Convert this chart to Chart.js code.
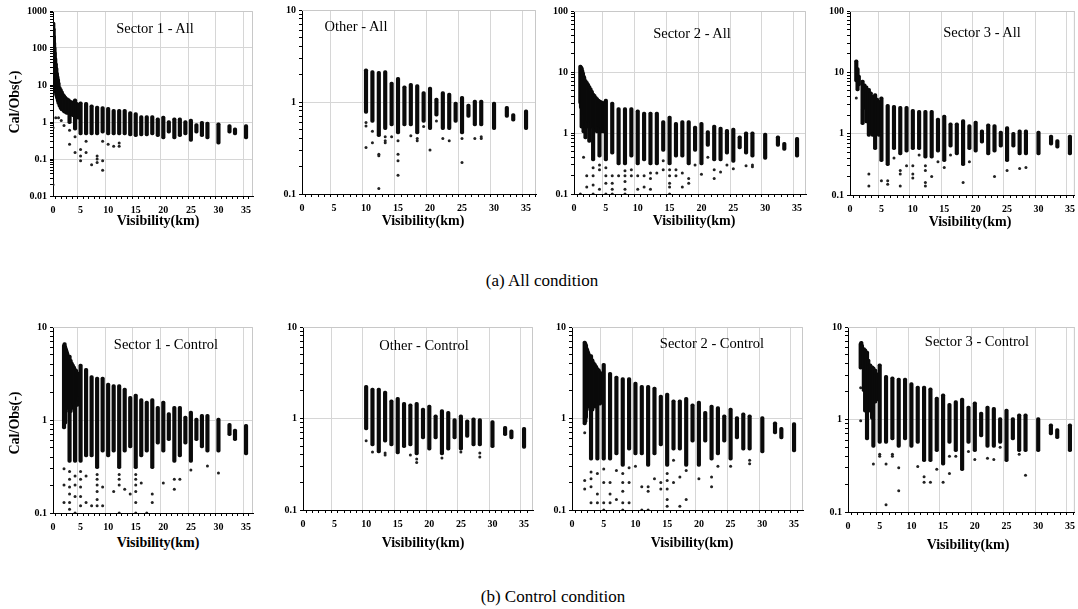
<!DOCTYPE html>
<html><head><meta charset="utf-8">
<script src="https://cdn.jsdelivr.net/npm/chart.js@4/dist/chart.umd.min.js"></script>
<style>
html,body{margin:0;padding:0;background:#fff;width:1078px;height:609px;overflow:hidden;position:relative;font-family:"Liberation Serif","Times New Roman",serif;color:#000}
canvas{position:absolute}
.t{position:absolute;transform:translate(-50%,-50%);white-space:nowrap;line-height:1}
.pt{font-size:14.5px}
.xl{font-weight:bold;font-size:14px}
.yl{font-weight:bold;font-size:14px;transform:translate(-50%,-50%) rotate(-90deg)}
.cap{font-size:17px}
</style></head><body>
<script>
// ---------- tick labels ----------
const X_TICK_LABELS = [0, 5, 10, 15, 20, 25, 30, 35];
const Y_MAJOR_S1_ALL = [0.01, 0.1, 1, 10, 100, 1000];
const Y_MAJOR_2DEC = [0.1, 1, 10];
const Y_MAJOR_3DEC = [0.1, 1, 10, 100];
const FAR_X = [6,7,8,9,10,11,12,13,14,15,16,17,18,19,20,21,22,23,24,25,26,27,28,30,32,33,35];
const OTHER_X = [10,11,12,13,14,15,16,17,18,19,20,21,22,23,24,25,26,27,28,30,32,33,35];

// ---------- Sector 1 - All ----------
const S1_ALL_NEAR_X  = [0.05,0.1,0.15,0.2,0.25,0.3,0.4,0.5,0.6,0.7,0.8,0.9,1.0,1.2,1.4,1.6,1.8,2.0,2.2,2.5,2.8,3.0,3.3,3.6,4.0,4.3,4.6,5.0];
const S1_ALL_NEAR_HI = [500,350,220,150,110,80,55,40,30,22,18,15,12,9,8,7,6,5.5,5,4.6,4.3,4,3.8,3.6,4.2,3.4,3.2,3.5];
const S1_ALL_NEAR_LO = [30,25,20,15,12,10,8,6,5,4.5,4,3.5,3,2.5,2.2,2,2,1.8,1.7,1.6,1.6,0.9,1.5,1.4,0.6,1.3,1.2,0.45];
const S1_ALL_HI = [3.4,2.9,2.7,2.6,2.5,2.2,2.2,2.2,1.9,1.8,1.5,1.5,1.5,1.3,1.45,1.1,1.3,1.3,1.1,1.2,0.9,1.05,1.0,0.95,0.85,0.7,0.85];
const S1_ALL_LO = [0.45,0.45,0.45,0.5,0.45,0.45,0.45,0.45,0.42,0.4,0.42,0.42,0.45,0.4,0.35,0.5,0.35,0.4,0.45,0.3,0.5,0.4,0.35,0.25,0.5,0.45,0.35];
const S1_ALL_OUT_X = [0,0,0.5,1,1.5,2,3,3,4,4,5,5,5,6,6,7,8,8,8,9,9,9,10,11,12,12];
const S1_ALL_OUT_Y = [0.02,0.7,1.3,1.3,1.1,0.8,0.25,0.6,0.15,0.4,0.09,0.12,0.18,0.15,0.3,0.07,0.08,0.1,0.12,0.05,0.09,0.3,0.25,0.22,0.22,0.27];

// ---------- Other - All ----------
const OT_ALL_HI = [2.3,2.2,2.15,2.2,1.65,1.85,1.5,1.6,1.55,1.3,1.45,1.1,1.3,1.25,1.0,1.15,0.95,1.05,1.05,1.0,0.9,0.75,0.82];
const OT_ALL_LO = [0.75,0.6,0.42,0.5,0.55,0.45,0.55,0.55,0.45,0.6,0.5,0.7,0.5,0.5,0.6,0.45,0.68,0.55,0.55,0.5,0.68,0.62,0.5];
const OT_ALL_OUT_X = [10,10,10,11,11,12,12,12,13,13,13,14,15,15,15,15,17,18,18,19,20,21,22,23,25,25,27,28,28];
const OT_ALL_OUT_Y = [0.6,0.55,0.32,0.48,0.36,0.27,0.26,0.115,0.42,0.38,0.36,0.42,0.38,0.27,0.23,0.16,0.43,0.4,0.38,0.54,0.3,0.62,0.4,0.38,0.4,0.22,0.4,0.42,0.4];

// ---------- Sector 2 - All ----------
const S2_ALL_NEAR_X  = [1.0,1.1,1.2,1.3,1.4,1.5,1.6,1.8,2.0,2.2,2.4,2.6,2.8,3.0,3.2,3.4,3.6,3.8,4.0,4.2,4.4,4.6,4.8,5.0];
const S2_ALL_NEAR_HI = [13,12.5,12,11,10,9,8.5,7.5,7,6.5,6,5.5,5,4.5,4.3,4,3.8,3.6,3.5,3.4,3.3,3.2,3.3,3.6];
const S2_ALL_NEAR_LO = [3,2.5,1.2,2,1.5,1,2,0.8,1.2,1.5,0.7,1.5,1.2,0.35,1.3,1.2,1,1.3,0.4,1.2,1,1,1.1,0.35];
const S2_ALL_HI = [3.2,2.6,2.6,2.6,2.4,2.2,2.2,2.2,1.6,1.9,1.5,1.6,1.6,1.3,1.5,1.1,1.35,1.25,1.15,1.2,0.9,1.05,1.05,1.0,0.9,0.7,0.85];
const S2_ALL_LO = [0.45,0.3,0.3,0.4,0.3,0.35,0.3,0.3,0.5,0.3,0.4,0.4,0.3,0.5,0.3,0.6,0.35,0.35,0.45,0.33,0.55,0.45,0.4,0.37,0.6,0.52,0.4];
const S2_ALL_OUT_X = [6,6,6,6,7,8,8,8,8,8,9,9,10,10,11,11,12,12,12,13,14,14,15,15,15,15,15,16,16,17,17,18,18,19,20,21,22,22,23,24,25,27,28,28,2,2,1.5,4,4,4,3,3,3,3,5,5,5,5,1];
const S2_ALL_OUT_Y = [0.1,0.12,0.15,0.2,0.2,0.1,0.12,0.16,0.2,0.24,0.2,0.25,0.12,0.2,0.2,0.13,0.12,0.18,0.22,0.22,0.25,0.35,0.1,0.13,0.15,0.2,0.25,0.2,0.25,0.13,0.22,0.15,0.18,0.3,0.21,0.4,0.18,0.25,0.23,0.3,0.26,0.29,0.28,0.3,0.2,0.13,0.4,0.25,0.12,0.3,0.1,0.14,0.2,0.27,0.1,0.15,0.2,0.27,0.1];

// ---------- Sector 3 - All ----------
const S3_ALL_NEAR_X  = [1.0,1.2,1.4,2.0,2.3,2.6,3.0,3.3,3.6,4.0,4.3,4.6,5.0];
const S3_ALL_NEAR_HI = [16,12,9,7.5,6.5,6,5.5,4.8,4.2,4.5,3.8,3.5,4];
const S3_ALL_NEAR_LO = [7,5,6,1.4,2.5,1.5,0.9,1,0.9,0.55,1,0.9,0.35];
const S3_ALL_HI = [3.0,2.9,2.8,2.8,2.5,2.4,2.4,2.4,1.8,2.0,1.5,1.5,1.7,1.4,1.6,1.15,1.45,1.4,1.1,1.3,1.05,1.15,1.15,1.1,0.95,0.8,0.95];
const S3_ALL_LO = [0.3,0.55,0.45,0.5,0.55,0.55,0.4,0.4,0.5,0.35,0.6,0.45,0.3,0.55,0.5,0.7,0.45,0.5,0.6,0.35,0.6,0.45,0.45,0.45,0.65,0.58,0.45];
const S3_ALL_OUT_X = [1,2,3,3,5,6,6,8,8,8,9,10,10,10,12,12,12,12,13,14,15,18,23,25,27,28,7,11,16,19];
const S3_ALL_OUT_Y = [3.8,2.5,0.22,0.14,0.17,0.17,0.15,0.25,0.22,0.14,0.3,0.3,0.22,0.19,0.3,0.25,0.16,0.14,0.2,0.35,0.28,0.16,0.2,0.25,0.27,0.28,0.4,0.45,0.45,0.35];

// ---------- Sector 1 - Control ----------
const S1_CT_NEAR_X  = [2.0,2.1,2.2,2.3,2.4,2.5,2.6,2.8,3.0,3.2,3.4,3.6,3.8,4.0,4.2,4.4,4.6,4.8,5.0];
const S1_CT_NEAR_HI = [6.5,6.8,6.3,6,5.8,5.5,5.3,5,5,4.5,4.2,4,3.8,3.6,3.5,3.3,3.2,3.1,4];
const S1_CT_NEAR_LO = [0.8,1,0.9,1.2,1.3,1.5,1.4,1.3,0.35,1.2,1.3,1.5,1.4,0.35,1.5,1.4,1.6,1.8,0.35];
const S1_CT_HI = [3.6,3.0,2.9,2.9,2.5,2.4,2.4,2.2,1.8,1.9,1.7,1.6,1.7,1.4,1.6,1.2,1.4,1.4,1.1,1.25,1.05,1.15,1.15,1.05,0.92,0.8,0.9];
const S1_CT_LO = [0.4,0.4,0.3,0.45,0.4,0.45,0.3,0.45,0.5,0.3,0.4,0.45,0.3,0.55,0.45,0.6,0.35,0.4,0.55,0.35,0.6,0.5,0.45,0.45,0.68,0.6,0.42];
const S1_CT_OUT_X = [2,2,2,3,3,3,3,3,3,4,4,4,4,5,5,5,5,5,6,6,7,8,8,8,8,8,8,9,9,11,12,12,12,12,13,14,15,15,15,15,15,15,16,17,18,18,20,22,22,23,25,28,30];
const S1_CT_OUT_Y = [0.13,0.2,0.3,0.13,0.11,0.16,0.19,0.23,0.28,0.1,0.15,0.2,0.25,0.12,0.15,0.19,0.23,0.28,0.13,0.25,0.12,0.12,0.14,0.17,0.2,0.23,0.26,0.12,0.19,0.17,0.1,0.2,0.23,0.26,0.18,0.16,0.1,0.13,0.17,0.2,0.23,0.26,0.21,0.1,0.13,0.16,0.21,0.18,0.23,0.23,0.29,0.32,0.27];

// ---------- Other - Control ----------
const OT_CT_HI = [2.3,2.15,2.15,2.0,1.6,1.7,1.5,1.45,1.5,1.3,1.4,1.1,1.25,1.2,1.0,1.1,0.97,1.02,1.0,0.95,0.82,0.75,0.8];
const OT_CT_LO = [0.75,0.5,0.42,0.55,0.5,0.41,0.48,0.5,0.4,0.6,0.45,0.6,0.4,0.45,0.6,0.45,0.62,0.5,0.5,0.48,0.65,0.6,0.47];
const OT_CT_OUT_X = [10,11,13,13,17,18,18,22,25,28,28];
const OT_CT_OUT_Y = [0.57,0.43,0.42,0.4,0.4,0.36,0.33,0.37,0.43,0.42,0.38];

// ---------- Sector 2 - Control ----------
const S2_CT_NEAR_X  = [2.0,2.1,2.2,2.3,2.4,2.5,2.6,2.8,3.0,3.2,3.4,3.6,3.8,4.0,4.2,4.4,4.6,4.8,5.0];
const S2_CT_NEAR_HI = [7,6.8,6.5,6,5.8,5.5,5.3,5,5,4.5,4.2,4,3.8,3.6,3.5,3.3,3.2,3.1,4];
const S2_CT_NEAR_LO = [0.85,0.9,1,1.2,1.3,1.4,1.4,1.3,0.35,1.2,1.3,1.4,1.3,0.35,1.5,1.4,1.6,1.8,0.35];
const S2_CT_HI = [3.2,2.9,2.8,2.8,2.5,2.3,2.3,2.2,1.8,1.9,1.6,1.6,1.7,1.45,1.55,1.2,1.4,1.35,1.1,1.3,1.05,1.15,1.1,1.05,0.92,0.8,0.9];
const S2_CT_LO = [0.35,0.4,0.3,0.45,0.4,0.4,0.3,0.4,0.5,0.3,0.45,0.45,0.3,0.55,0.3,0.55,0.35,0.4,0.55,0.35,0.6,0.45,0.45,0.42,0.68,0.6,0.43];
const S2_CT_OUT_X = [2,2,2,3,3,3,3,4,4,4,5,5,5,5,6,6,6,7,7,8,8,8,8,8,9,9,9,10,11,11,12,12,12,13,14,14,15,15,15,15,15,16,16,17,17,18,18,20,22,22,23,25,28,28];
const S2_CT_OUT_Y = [0.17,0.21,0.7,0.18,0.26,0.12,0.22,0.12,0.15,0.25,0.1,0.12,0.2,0.28,0.12,0.15,0.2,0.13,0.27,0.1,0.12,0.16,0.2,0.25,0.12,0.2,0.29,0.3,0.18,0.1,0.1,0.16,0.18,0.22,0.17,0.2,0.11,0.13,0.17,0.21,0.25,0.2,0.35,0.11,0.23,0.13,0.27,0.22,0.18,0.23,0.3,0.3,0.32,0.35];

// ---------- Sector 3 - Control ----------
const S3_CT_NEAR_X  = [2.0,2.1,2.2,2.5,2.7,3.0,3.2,3.5,3.8,4.0,4.3,4.6,5.0];
const S3_CT_NEAR_HI = [6.8,7,6.5,6,5.8,5.5,4.5,4,3.8,3.7,3.5,3.2,4];
const S3_CT_NEAR_LO = [3.5,4,5,2,1.2,0.6,1.5,1.2,1,0.5,1.5,1.6,0.55];
const S3_CT_HI = [3.0,2.9,2.8,2.8,2.5,2.3,2.3,2.2,1.75,1.9,1.5,1.6,1.7,1.4,1.55,1.2,1.4,1.35,1.05,1.3,1.05,1.15,1.15,1.05,0.9,0.8,0.9];
const S3_CT_LO = [0.55,0.6,0.5,0.6,0.5,0.55,0.35,0.35,0.45,0.32,0.55,0.45,0.28,0.55,0.45,0.65,0.5,0.5,0.55,0.35,0.6,0.45,0.45,0.45,0.68,0.62,0.45];
const S3_CT_OUT_X = [2,2,4,5,5,6,6,7,7,8,8,11,12,12,13,14,15,16,16,17,19,20,22,23,24,27,28];
const S3_CT_OUT_Y = [0.97,2.2,0.33,0.42,0.4,0.33,0.12,0.42,0.4,0.3,0.17,0.31,0.24,0.21,0.21,0.29,0.21,0.4,0.26,0.4,0.45,0.37,0.38,0.37,0.5,0.42,0.25];

// ---------- panels ----------
const PANELS = [
  {title:'Sector 1 - All',     tx:155, ty:28,  xs:S1_ALL_NEAR_X.concat(FAR_X), lo:S1_ALL_NEAR_LO.concat(S1_ALL_LO), hi:S1_ALL_NEAR_HI.concat(S1_ALL_HI), ox:S1_ALL_OUT_X, oy:S1_ALL_OUT_Y, yt:Y_MAJOR_S1_ALL, L:53, R:254, T:10, B:196, x35:247, xl:[158,221]},
  {title:'Other - All',        tx:356, ty:26,  xs:OTHER_X, lo:OT_ALL_LO, hi:OT_ALL_HI, ox:OT_ALL_OUT_X, oy:OT_ALL_OUT_Y, yt:Y_MAJOR_2DEC, L:302, R:537, T:9, B:194, x35:527, xl:[423,221]},
  {title:'Sector 2 - All',     tx:692, ty:33,  xs:S2_ALL_NEAR_X.concat(FAR_X), lo:S2_ALL_NEAR_LO.concat(S2_ALL_LO), hi:S2_ALL_NEAR_HI.concat(S2_ALL_HI), ox:S2_ALL_OUT_X, oy:S2_ALL_OUT_Y, yt:Y_MAJOR_3DEC, L:574, R:807, T:10, B:194, x35:798, xl:[694,221]},
  {title:'Sector 3 - All',     tx:982, ty:32,  xs:S3_ALL_NEAR_X.concat(FAR_X), lo:S3_ALL_NEAR_LO.concat(S3_ALL_LO), hi:S3_ALL_NEAR_HI.concat(S3_ALL_HI), ox:S3_ALL_OUT_X, oy:S3_ALL_OUT_Y, yt:Y_MAJOR_3DEC, L:850, R:1077, T:10, B:195, x35:1072, xl:[970,222]},
  {title:'Sector 1 - Control', tx:166, ty:344, xs:S1_CT_NEAR_X.concat(FAR_X), lo:S1_CT_NEAR_LO.concat(S1_CT_LO), hi:S1_CT_NEAR_HI.concat(S1_CT_HI), ox:S1_CT_OUT_X, oy:S1_CT_OUT_Y, yt:Y_MAJOR_2DEC, L:53, R:254, T:326, B:513, x35:247, xl:[158,543]},
  {title:'Other - Control',    tx:424, ty:345, xs:OTHER_X, lo:OT_CT_LO, hi:OT_CT_HI, ox:OT_CT_OUT_X, oy:OT_CT_OUT_Y, yt:Y_MAJOR_2DEC, L:303, R:534, T:326, B:510, x35:525, xl:[423,543]},
  {title:'Sector 2 - Control', tx:712, ty:343, xs:S2_CT_NEAR_X.concat(FAR_X), lo:S2_CT_NEAR_LO.concat(S2_CT_LO), hi:S2_CT_NEAR_HI.concat(S2_CT_HI), ox:S2_CT_OUT_X, oy:S2_CT_OUT_Y, yt:Y_MAJOR_2DEC, L:572, R:804, T:326, B:510, x35:795, xl:[692,543]},
  {title:'Sector 3 - Control', tx:977, ty:341, xs:S3_CT_NEAR_X.concat(FAR_X), lo:S3_CT_NEAR_LO.concat(S3_CT_LO), hi:S3_CT_NEAR_HI.concat(S3_CT_HI), ox:S3_CT_OUT_X, oy:S3_CT_OUT_Y, yt:Y_MAJOR_2DEC, L:848, R:1077, T:326, B:512, x35:1072, xl:[968,545]}
];

const PADL = 48, PADT = 8, PADR = 3, PADB = 22;
const TICKFONT = {family:'"Liberation Serif","Times New Roman",serif', size:10, weight:'bold'};

const framePlugin = {
  id:'frame',
  afterDraw(chart){
    const a = chart.chartArea, c = chart.ctx;
    c.save(); c.strokeStyle = '#c8c8c8'; c.lineWidth = 1;
    c.beginPath(); c.moveTo(a.left, a.top + 0.5); c.lineTo(a.right - 0.5, a.top + 0.5); c.lineTo(a.right - 0.5, a.bottom); c.stroke();
    c.restore();
  }
};

function addText(cls, txt, x, y){
  const d = document.createElement('div');
  d.className = 't ' + cls; d.textContent = txt;
  d.style.left = x + 'px'; d.style.top = y + 'px';
  document.body.appendChild(d);
}

PANELS.forEach(p => {
  const cv = document.createElement('canvas');
  const w = p.R - p.L + PADL + PADR, h = p.B - p.T + PADT + PADB;
  cv.width = w; cv.height = h;
  cv.style.left = (p.L - PADL) + 'px'; cv.style.top = (p.T - PADT) + 'px';
  cv.style.width = w + 'px'; cv.style.height = h + 'px';
  document.body.appendChild(cv);
  const xMax = 35 * (p.R - p.L) / (p.x35 - p.L);
  const yMin = p.yt[0], yMax = p.yt[p.yt.length - 1];
  const majors = new Set(p.yt);
  const yTicks = [];
  p.yt.forEach((d, i) => { if (i < p.yt.length - 1) { for (let k = 1; k < 10; k++) yTicks.push(+(d * k).toPrecision(3)); } else yTicks.push(d); });
  const xTicks = []; for (let v = 0; v <= Math.floor(xMax); v++) xTicks.push(v);

  new Chart(cv, {
    type:'bar',
    data:{datasets:[
      {type:'bar', data:p.xs.map((x, i) => ({x:x, y:[p.lo[i], p.hi[i]]})), backgroundColor:'#0a0a0a', borderWidth:0, barThickness:3.5, borderRadius:1.75, borderSkipped:false, grouped:false},
      {type:'scatter', data:p.ox.map((x, i) => ({x:x, y:p.oy[i]})), pointRadius:1.5, backgroundColor:'#222', borderWidth:0}
    ]},
    options:{
      responsive:false, devicePixelRatio:1, animation:false, events:[],
      layout:{padding:{top:PADT, right:PADR, left:0, bottom:0}},
      plugins:{legend:{display:false}, tooltip:{enabled:false}},
      scales:{
        x:{type:'linear', min:0, max:xMax, offset:false,
          afterBuildTicks(s){ s.ticks = xTicks.map(v => ({value:v})); },
          afterFit(s){ s.height = PADB; },
          ticks:{autoSkip:false, maxRotation:0, padding:5, color:'#000', font:TICKFONT,
            callback:(v) => X_TICK_LABELS.includes(v) ? String(v) : ''},
          grid:{color:(c) => (c.tick && X_TICK_LABELS.includes(c.tick.value) && c.tick.value > 0) ? '#d6d6d6' : 'rgba(0,0,0,0)',
                tickColor:'#000', tickLength:3, drawTicks:true},
          border:{display:true, color:'#000', width:1}
        },
        y:{type:'logarithmic', min:yMin, max:yMax,
          afterBuildTicks(s){ s.ticks = yTicks.map(v => ({value:v})); },
          afterFit(s){ s.width = PADL; },
          ticks:{autoSkip:false, padding:3, color:'#000', font:TICKFONT,
            callback:(v) => majors.has(v) ? String(v) : ''},
          grid:{color:(c) => (c.tick && majors.has(c.tick.value)) ? '#d6d6d6' : 'rgba(0,0,0,0)',
                tickColor:'#000', tickLength:3, drawTicks:true},
          border:{display:true, color:'#000', width:1}
        }
      }
    },
    plugins:[framePlugin]
  });
  addText('pt', p.title, p.tx, p.ty);
  addText('xl', 'Visibility(km)', p.xl[0], p.xl[1]);
});

addText('yl', 'Cal/Obs(-)', 15, 102);
addText('yl', 'Cal/Obs(-)', 15, 423);
addText('cap', '(a) All condition', 542, 280);
addText('cap', '(b) Control condition', 553, 596);
</script>
</body></html>
